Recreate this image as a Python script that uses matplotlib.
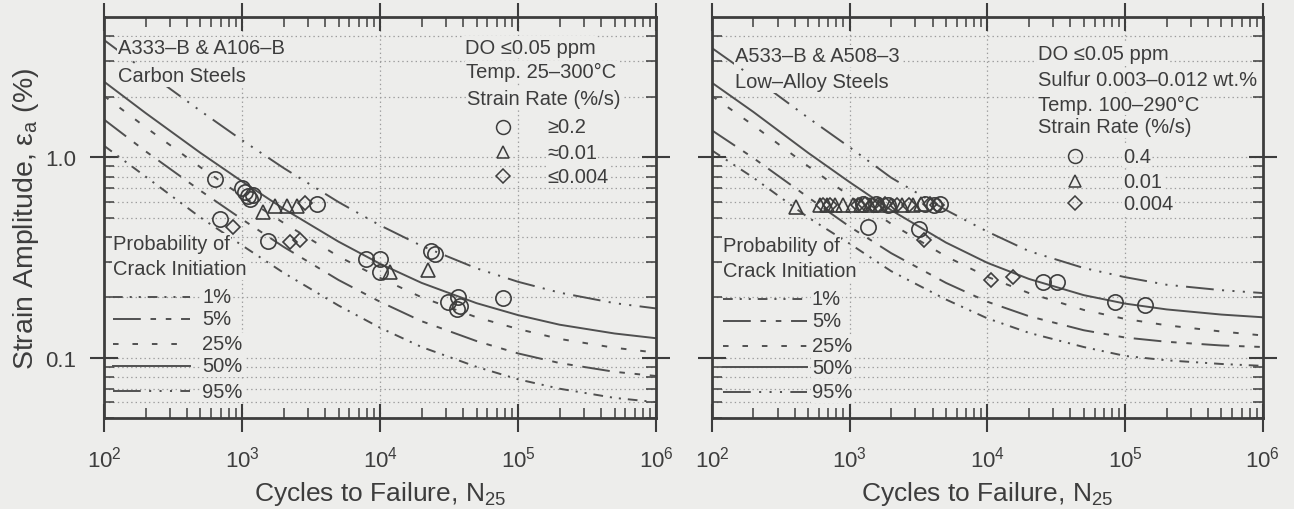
import matplotlib
matplotlib.use("Agg")
import matplotlib.pyplot as plt
from matplotlib.ticker import FixedLocator, FixedFormatter, NullFormatter

plt.rcParams['font.family'] = ['Liberation Sans', 'DejaVu Sans']
plt.rcParams['mathtext.fontset'] = 'custom'
plt.rcParams['mathtext.rm'] = 'Liberation Sans'
plt.rcParams['mathtext.it'] = 'Liberation Sans:italic'
plt.rcParams['lines.scale_dashes'] = False

INK = '#3d3d3d'
LINE = '#505050'
GRID = '#9c9c9c'
BG = '#ededeb'

# ---------------------------------------------------------------- data
# cycles at which the probability curves are tabulated
N_grid = [1e2, 2e2, 5e2, 1e3, 2e3, 5e3, 1e4, 2e4, 5e4, 1e5, 2e5, 5e5, 1e6]

# carbon steels: strain amplitude (%) for each probability of crack initiation
cs_p01 = [1.14, 0.80, 0.50, 0.363, 0.265, 0.182, 0.141, 0.113, 0.090, 0.078, 0.070, 0.063, 0.060]
cs_p05 = [1.54, 1.07, 0.68, 0.49, 0.357, 0.244, 0.19, 0.152, 0.121, 0.105, 0.094, 0.085, 0.081]
cs_p25 = [2.02, 1.41, 0.89, 0.64, 0.47, 0.32, 0.25, 0.20, 0.159, 0.139, 0.124, 0.112, 0.106]
cs_p50 = [2.38, 1.66, 1.05, 0.757, 0.553, 0.379, 0.294, 0.236, 0.187, 0.163, 0.146, 0.132, 0.125]
cs_p95 = [3.84, 2.69, 1.70, 1.215, 0.883, 0.597, 0.457, 0.361, 0.279, 0.239, 0.211, 0.187, 0.176]

# low-alloy steels
la_p01 = [1.08, 0.79, 0.50, 0.37, 0.27, 0.195, 0.157, 0.133, 0.113, 0.102, 0.097, 0.093, 0.091]
la_p05 = [1.36, 0.99, 0.63, 0.45, 0.332, 0.236, 0.19, 0.161, 0.137, 0.126, 0.120, 0.115, 0.113]
la_p25 = [2.02, 1.44, 0.90, 0.64, 0.465, 0.32, 0.253, 0.21, 0.173, 0.156, 0.145, 0.135, 0.129]
la_p50 = [2.35, 1.68, 1.05, 0.75, 0.544, 0.375, 0.297, 0.247, 0.205, 0.186, 0.174, 0.164, 0.159]
la_p95 = [3.50, 2.50, 1.57, 1.12, 0.79, 0.545, 0.425, 0.34, 0.28, 0.252, 0.231, 0.217, 0.210]

# carbon steel test data (cycles, strain amplitude %)
cs_fast_N = [637, 1000, 1050, 1100, 1150, 1200, 3490, 690, 1540, 7900, 10000, 10000,
             23500, 25000, 31000, 37000, 36000, 38000, 77800]
cs_fast_e = [0.78, 0.70, 0.67, 0.64, 0.62, 0.65, 0.585, 0.49, 0.38, 0.31, 0.31, 0.266,
             0.34, 0.33, 0.19, 0.20, 0.175, 0.18, 0.198]
cs_mid_N = [1420, 1730, 2120, 2510, 11800, 22300]
cs_mid_e = [0.53, 0.57, 0.57, 0.57, 0.267, 0.275]
cs_slow_N = [860, 2230, 2630, 2860]
cs_slow_e = [0.45, 0.377, 0.385, 0.59]

# low-alloy steel test data
la_fast_N = [1250, 1550, 1900, 3500, 4100, 4500, 1360, 3200, 25300, 32000, 84300, 139000]
la_fast_e = [0.585, 0.585, 0.58, 0.585, 0.58, 0.585, 0.449, 0.44, 0.239, 0.239, 0.19, 0.183]
la_mid_N = [407, 610, 680, 780, 900, 1050, 1200, 1400, 1650, 2000, 2400, 2900, 3300]
la_mid_e = [0.565, 0.575, 0.58, 0.58, 0.58, 0.58, 0.58, 0.58, 0.575, 0.58, 0.58, 0.58, 0.585]
la_slow_N = [640, 720, 1150, 1300, 1450, 1600, 1800, 2200, 2700, 3800, 4300, 3450, 10600, 15300]
la_slow_e = [0.58, 0.58, 0.58, 0.585, 0.58, 0.58, 0.585, 0.58, 0.58, 0.585, 0.58, 0.385, 0.245, 0.253]

prob_labels_cs = ['1%', '5%', '25%', '50%', '95%']
prob_labels_la = ['1%', '5%', '25%', '50%', '95%']
x_ticks = [1e2, 1e3, 1e4, 1e5, 1e6]
x_tick_labels = [r'$\mathregular{10^{2}}$', r'$\mathregular{10^{3}}$', r'$\mathregular{10^{4}}$',
                 r'$\mathregular{10^{5}}$', r'$\mathregular{10^{6}}$']
y_ticks = [0.1, 1.0]
y_tick_labels = ['0.1', '1.0']

rate_labels_cs = ['\u22650.2', '\u22480.01', '\u22640.004']
rate_labels_la = ['0.4', '0.01', '0.004']

# ---------------------------------------------------------------- styles
styles = [
    (0, (7, 5, 1.5, 5, 1.5, 5)),        # 1 %
    (0, (20, 7, 4, 7, 4, 7)),           # 5 %
    (0, (4, 10)),                       # 25 %
    '-',                                # 50 %
    (0, (20, 6, 1.5, 6, 1.5, 6, 1.5, 6)),  # 95 %
]

fig = plt.figure(figsize=(12.94, 5.10), dpi=100, facecolor=BG)
ax1 = fig.add_axes([0.0804, 0.1784, 0.4266, 0.7863])
ax2 = fig.add_axes([0.5502, 0.1784, 0.4258, 0.7863])

minor_y = [0.05, 0.06, 0.07, 0.08, 0.09, 0.2, 0.3, 0.4, 0.5, 0.6, 0.7, 0.8, 0.9, 2, 3, 4]
minor_x = [m * 10 ** d for d in range(2, 6) for m in range(2, 10)]

text_kw = dict(color=INK, fontsize=14.5, va='center', ha='left',
               bbox=dict(facecolor=BG, edgecolor='none', pad=1.0))


def setup(ax, show_y):
    ax.set_facecolor(BG)
    ax.set_xscale('log')
    ax.set_yscale('log')
    ax.set_xlim(1e2, 1e6)
    ax.set_ylim(0.05, 5)
    ax.xaxis.set_major_locator(FixedLocator(x_ticks))
    ax.xaxis.set_major_formatter(FixedFormatter(x_tick_labels))
    ax.xaxis.set_minor_locator(FixedLocator(minor_x))
    ax.xaxis.set_minor_formatter(NullFormatter())
    ax.yaxis.set_major_locator(FixedLocator(y_ticks))
    ax.yaxis.set_major_formatter(FixedFormatter(y_tick_labels if show_y else ['', '']))
    ax.yaxis.set_minor_locator(FixedLocator(minor_y))
    ax.yaxis.set_minor_formatter(NullFormatter())
    ax.tick_params(which='major', direction='inout', length=20, width=1.5,
                   top=True, right=True, color=INK, labelcolor=INK, labelsize=16, pad=10)
    ax.tick_params(which='minor', direction='in', length=7, width=1.1,
                   top=True, right=True, color=INK)
    for s in ax.spines.values():
        s.set_linewidth(2.0)
        s.set_color(INK)
    for v in minor_y + y_ticks:
        ax.axhline(v, color=GRID, lw=0.9, ls=(0, (1, 2.2)), zorder=0.5)
    for v in x_ticks[1:-1]:
        ax.axvline(v, color=GRID, lw=0.9, ls=(0, (1, 2.2)), zorder=0.5)
    ax.set_xlabel(r'Cycles to Failure, $\mathregular{N_{25}}$', fontsize=19, color=INK, labelpad=5)


def draw_curves(ax, curves):
    for eps, ls in zip(curves, styles):
        ax.plot(N_grid, eps, color=LINE, lw=1.4, ls=ls, zorder=2)


def draw_data(ax, fast, mid, slow):
    mk = dict(mfc='none', mec=INK, mew=1.2, ls='none', zorder=3)
    ax.plot(fast[0], fast[1], marker='o', ms=11, **mk)
    ax.plot(mid[0], mid[1], marker='^', ms=10, **mk)
    ax.plot(slow[0], slow[1], marker='D', ms=7.5, **mk)


def prob_legend(ax, labels, x0, x1, xt, ys, ytitle):
    ax.text(x0, ytitle[0], 'Probability of', transform=ax.transAxes, **text_kw)
    ax.text(x0, ytitle[1], 'Crack Initiation', transform=ax.transAxes, **text_kw)
    for lab, ls, y in zip(labels, styles, ys):
        ax.plot([x0, x1], [y, y], transform=ax.transAxes, color=LINE, lw=1.4, ls=ls, zorder=4)
        ax.text(xt, y, lab, transform=ax.transAxes, **text_kw)


def rate_legend(ax, xm, xt, ys, labels):
    mk = dict(mfc='none', mec=INK, mew=1.1, ls='none', transform=ax.transAxes, zorder=4)
    for m, s, y, lab in zip(['o', '^', 'D'], [10, 9, 7], ys, labels):
        ax.plot([xm], [y], marker=m, ms=s, **mk)
        ax.text(xt, y, lab, transform=ax.transAxes, **text_kw)


# ---------------------------------------------------------------- carbon steels
setup(ax1, True)
ax1.set_ylabel(r'Strain Amplitude, $\mathregular{\varepsilon_a}$ (%)', fontsize=20.5, color=INK, labelpad=3)
draw_curves(ax1, [cs_p01, cs_p05, cs_p25, cs_p50, cs_p95])
draw_data(ax1, (cs_fast_N, cs_fast_e), (cs_mid_N, cs_mid_e), (cs_slow_N, cs_slow_e))
ax1.text(0.0254, 0.923, 'A333\u2013B & A106\u2013B', transform=ax1.transAxes, **text_kw)
ax1.text(0.0254, 0.853, 'Carbon Steels', transform=ax1.transAxes, **text_kw)
ax1.text(0.654, 0.925, 'DO \u22640.05 ppm', transform=ax1.transAxes, **text_kw)
ax1.text(0.656, 0.863, 'Temp. 25\u2013300\u00b0C', transform=ax1.transAxes, **text_kw)
ax1.text(0.658, 0.796, 'Strain Rate (%/s)', transform=ax1.transAxes, **text_kw)
rate_legend(ax1, 0.723, 0.8025, [0.726, 0.663, 0.603], rate_labels_cs)
prob_legend(ax1, prob_labels_cs, 0.0163, 0.156, 0.1775,
            [0.302, 0.247, 0.185, 0.130, 0.067], (0.434, 0.372))

# ---------------------------------------------------------------- low-alloy steels
setup(ax2, False)
draw_curves(ax2, [la_p01, la_p05, la_p25, la_p50, la_p95])
draw_data(ax2, (la_fast_N, la_fast_e), (la_mid_N, la_mid_e), (la_slow_N, la_slow_e))
ax2.text(0.0417, 0.903, 'A533\u2013B & A508\u20133', transform=ax2.transAxes, **text_kw)
ax2.text(0.0417, 0.838, 'Low\u2013Alloy Steels', transform=ax2.transAxes, **text_kw)
ax2.text(0.5917, 0.908, 'DO \u22640.05 ppm', transform=ax2.transAxes, **text_kw)
ax2.text(0.5917, 0.845, 'Sulfur 0.003\u20130.012 wt.%', transform=ax2.transAxes, **text_kw)
ax2.text(0.5917, 0.783, 'Temp. 100\u2013290\u00b0C', transform=ax2.transAxes, **text_kw)
ax2.text(0.5917, 0.726, 'Strain Rate (%/s)', transform=ax2.transAxes, **text_kw)
rate_legend(ax2, 0.6588, 0.746, [0.653, 0.591, 0.536], rate_labels_la)
prob_legend(ax2, prob_labels_la, 0.02, 0.1724, 0.1815,
            [0.297, 0.242, 0.180, 0.127, 0.065], (0.429, 0.367))

fig.savefig('out.png', dpi=100, facecolor=BG)
